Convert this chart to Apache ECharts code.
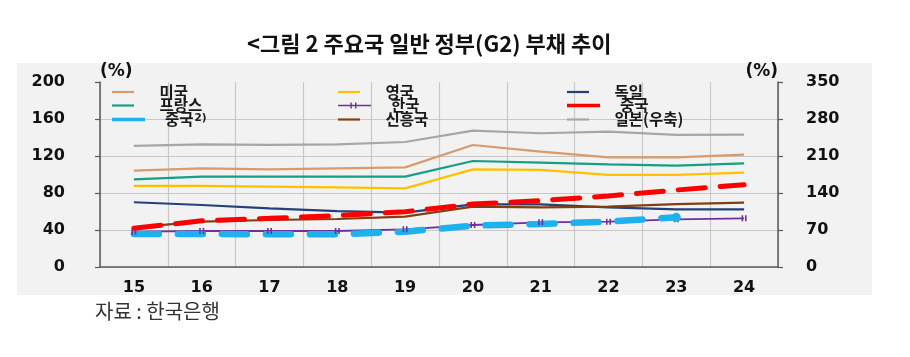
<!DOCTYPE html>
<html>
<head>
<meta charset="utf-8">
<script src="https://cdn.jsdelivr.net/npm/echarts@6/dist/echarts.min.js"></script>
<style>html,body{margin:0;padding:0;background:#fff;}#c{width:910px;height:357px;}</style>
</head>
<body>
<div id="c"></div>
<script>
const categories = ['15','16','17','18','19','20','21','22','23','24'];
const us       = [104.1, 106.7, 105.6, 106.7, 107.7, 131.9, 124.7, 118.6, 118.6, 121.4];
const uk       = [87.6, 87.6, 86.8, 86.0, 85.0, 105.6, 104.9, 99.5, 99.5, 102.0];
const germany  = [70.0, 67.0, 63.4, 60.5, 58.7, 67.8, 67.8, 64.5, 62.3, 62.3];
const france   = [94.8, 97.7, 97.7, 97.7, 97.7, 114.6, 112.8, 111.0, 109.5, 112.0];
const korea    = [38.2, 38.9, 38.9, 38.9, 40.7, 45.4, 48.3, 49.0, 51.5, 52.6];
const emerging = [42.9, 49.0, 50.8, 51.9, 54.4, 65.2, 64.5, 65.2, 68.0, 69.5];
const china    = [41.8, 50.0, 52.6, 55.5, 59.8, 68.1, 71.7, 76.8, 83.2, 89.0];
const china2   = [35.7, 35.7, 35.3, 35.3, 38.2, 44.7, 46.5, 49.0, 53.7, null];
const japan    = [229, 232, 231, 232, 236.5, 258, 253, 256, 250, 250.5];

const names = {
  us: '미국', uk: '영국', germany: '독일', france: '프랑스', korea: '한국',
  china: '중국', china2: '중국2)', emerging: '신흥국', japan: '일본(우축)'
};
const colors = {
  us: '#d99a6c', uk: '#ffc000', germany: '#23407a', france: '#13a085', korea: '#7030a0',
  china: '#ff0000', china2: '#1eb1ee', emerging: '#7f3f12', japan: '#a6a6a6'
};

const KR = "'Noto Sans CJK KR', sans-serif";
const NUM = "'DejaVu Sans', sans-serif";

// legend layout: [key, column, row]
const legendLayout = [
  ['us',0,0],['uk',1,0],['germany',2,0],
  ['france',0,1],['korea',1,1],['china',2,1],
  ['china2',0,2],['emerging',1,2],['japan',2,2]
];
const colLeft = [112, 338, 567];
const rowMid = [92, 105.5, 119.5];
const thick = {china: 5, china2: 6};

const barPath = 'path://M0,0h10v1h-10z';
const koreaIcon = 'path://M0,3.3h32v1.4h-32z M12,1h1.4v6h-1.4z M16.5,1h1.4v6h-1.4z';

const legendText = { fontFamily: KR, fontWeight: 'bold', fontSize: 15.5, color: '#1a1a1a' };
const legends = legendLayout.map(([k, c, r]) => {
  const isK = k === 'korea';
  const ih = isK ? 8 : (thick[k] || 2.2);
  return {
    left: colLeft[c],
    top: rowMid[r] - 8,
    padding: 0,
    orient: 'horizontal',
    itemWidth: 33,
    itemHeight: ih,
    selectedMode: false,
    data: [{ name: names[k], icon: isK ? koreaIcon : barPath, itemStyle: { color: colors[k] } }],
    formatter: function (n) { return n === '중국2)' ? '{a|중국}{b|2)}' : n; },
    textStyle: Object.assign({}, legendText, {
      padding: [0,0,0,15], lineHeight: 16,
      rich: {
        a: Object.assign({}, legendText, { lineHeight: 16 }),
        b: Object.assign({}, legendText, { fontSize: 10.5, fontFamily: NUM, padding: [0,0,3,1] })
      }
    })
  };
});

const baseLine = (k, data, extra) => Object.assign({
  name: names[k], type: 'line', data: data, symbol: 'none', smooth: false,
  lineStyle: { color: colors[k], width: 2.2 }, itemStyle: { color: colors[k] }, emphasis: { disabled: true }
}, extra || {});

const series = [
  baseLine('japan', japan, { yAxisIndex: 1 }),
  baseLine('us', us),
  baseLine('france', france),
  baseLine('uk', uk),
  baseLine('germany', germany),
  baseLine('emerging', emerging),
  baseLine('korea', korea, {
    symbol: 'path://M0,0h1.4v6h-1.4z M3,0h1.4v6h-1.4z', symbolSize: [5, 6], showSymbol: true,
    lineStyle: { color: colors.korea, width: 1.8 }
  }),
  baseLine('china2', china2.map((v, i) => i === 8 ? { value: v, symbol: 'circle', symbolSize: 9 } : v), {
    lineStyle: { color: colors.china2, width: 6.5, type: [25, 19], cap: 'round' }
  }),
  baseLine('china', china, {
    lineStyle: { color: colors.china, width: 5, type: [27, 15], cap: 'round' }
  })
];

const chart = echarts.init(document.getElementById('c'), null, { renderer: 'canvas' });
chart.setOption({
  animation: false,
  backgroundColor: '#ffffff',
  graphic: [{
    type: 'rect', left: 17, top: 63, z: -10,
    shape: { width: 855, height: 232 },
    style: { fill: '#f2f2f2' }
  }],
  title: [
    { text: '<그림 2 주요국 일반 정부(G2) 부채 추이', left: 242, top: 28,
      textStyle: { fontFamily: KR, fontSize: 22, fontWeight: 'bold', color: '#111' } },
    { text: '자료 : 한국은행', left: 90, top: 296,
      textStyle: { fontFamily: KR, fontSize: 20, fontWeight: 'normal', color: '#333' } }
  ],
  legend: legends,
  grid: { left: 100, right: 132, top: 82, bottom: 90 },
  xAxis: {
    type: 'category', data: categories, boundaryGap: true,
    axisLine: { lineStyle: { color: '#5a5a5a', width: 1.5 } },
    axisTick: { show: false },
    axisLabel: { margin: 13, fontFamily: NUM, fontWeight: 'bold', fontSize: 16, color: '#111' },
    splitLine: { show: true, lineStyle: { color: '#c8c8c8', width: 1.2 } }
  },
  yAxis: [{
    type: 'value', min: 0, max: 200, interval: 40, position: 'left',
    name: '(%)', nameLocation: 'end', nameGap: 2,
    nameTextStyle: { fontFamily: NUM, fontWeight: 'bold', fontSize: 17, color: '#111', align: 'left' },
    axisLine: { show: true, lineStyle: { color: '#5a5a5a', width: 1.5 } },
    axisTick: { show: true, inside: false, length: 5, lineStyle: { color: '#5a5a5a', width: 1.2 } },
    axisLabel: { margin: 35, fontFamily: NUM, fontWeight: 'bold', fontSize: 16, color: '#111' },
    splitLine: { show: true, showMaxLine: false, lineStyle: { color: '#c8c8c8', width: 1.2 } }
  }, {
    type: 'value', min: 0, max: 350, interval: 70, position: 'right',
    name: '(%)', nameLocation: 'end', nameGap: 2,
    nameTextStyle: { fontFamily: NUM, fontWeight: 'bold', fontSize: 17, color: '#111', align: 'right' },
    axisLine: { show: true, lineStyle: { color: '#5a5a5a', width: 1.5 } },
    axisTick: { show: true, inside: false, length: 5, lineStyle: { color: '#5a5a5a', width: 1.2 } },
    axisLabel: { margin: 28, fontFamily: NUM, fontWeight: 'bold', fontSize: 16, color: '#111' },
    splitLine: { show: false }
  }],
  series: series
});
</script>
</body>
</html>
